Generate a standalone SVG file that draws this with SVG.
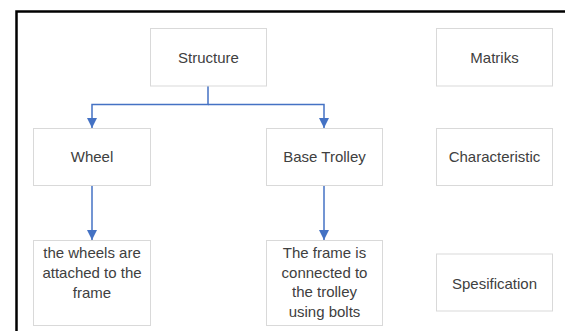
<svg xmlns="http://www.w3.org/2000/svg" width="565" height="331" viewBox="0 0 565 331">
<style>
.box{fill:#ffffff;stroke:#d9d9d9;stroke-width:1}
.t{font-family:"Liberation Sans",Arial,sans-serif;font-size:15px;fill:#404040;text-anchor:middle}
.c{fill:none;stroke:#4472c4;stroke-width:1.5}
</style>
<defs>
<marker id="arr" viewBox="0 0 10 10" refX="10" refY="5" markerWidth="10" markerHeight="10" markerUnits="userSpaceOnUse" orient="auto">
<path d="M0,0 L10,5 L0,10 Z" fill="#4472c4"/>
</marker>
</defs>
<rect width="565" height="331" fill="#ffffff"/>
<path d="M16.5,331 V11.5 H565" fill="none" stroke="#000000" stroke-width="2.5"/>
<g id="connectors">
<path class="c" d="M208,86 V104.5 H92 V128" marker-end="url(#arr)"/>
<path class="c" d="M208,104.5 H324 V128" marker-end="url(#arr)"/>
<path class="c" d="M92,185.5 V240" marker-end="url(#arr)"/>
<path class="c" d="M324,185.5 V240" marker-end="url(#arr)"/>
</g>
<g id="structure">
<rect class="box" x="150.5" y="28.5" width="116" height="57.5"/>
<text class="t" x="208.5" y="63">Structure</text>
</g>
<g id="matriks">
<rect class="box" x="436.5" y="28.5" width="116" height="57.5"/>
<text class="t" x="494.5" y="63">Matriks</text>
</g>
<g id="wheel">
<rect class="box" x="33.5" y="128.5" width="117" height="57"/>
<text class="t" x="92" y="162">Wheel</text>
</g>
<g id="base-trolley">
<rect class="box" x="266.5" y="128.5" width="116" height="57"/>
<text class="t" x="324.5" y="162">Base Trolley</text>
</g>
<g id="characteristic">
<rect class="box" x="436.5" y="128.5" width="116" height="57"/>
<text class="t" x="494.5" y="162">Characteristic</text>
</g>
<g id="wheel-desc">
<rect class="box" x="33.5" y="240.5" width="117" height="85"/>
<text class="t" x="92" y="258">the wheels are</text>
<text class="t" x="92" y="278">attached to the</text>
<text class="t" x="92" y="297.5">frame</text>
</g>
<g id="trolley-desc">
<rect class="box" x="266.5" y="240.5" width="116" height="85"/>
<text class="t" x="324.5" y="258">The frame is</text>
<text class="t" x="324.5" y="277.5">connected to</text>
<text class="t" x="324.5" y="297">the trolley</text>
<text class="t" x="324.5" y="316.5">using bolts</text>
</g>
<g id="spesification">
<rect class="box" x="436.5" y="254" width="116" height="57"/>
<text class="t" x="494.5" y="289">Spesification</text>
</g>
</svg>
